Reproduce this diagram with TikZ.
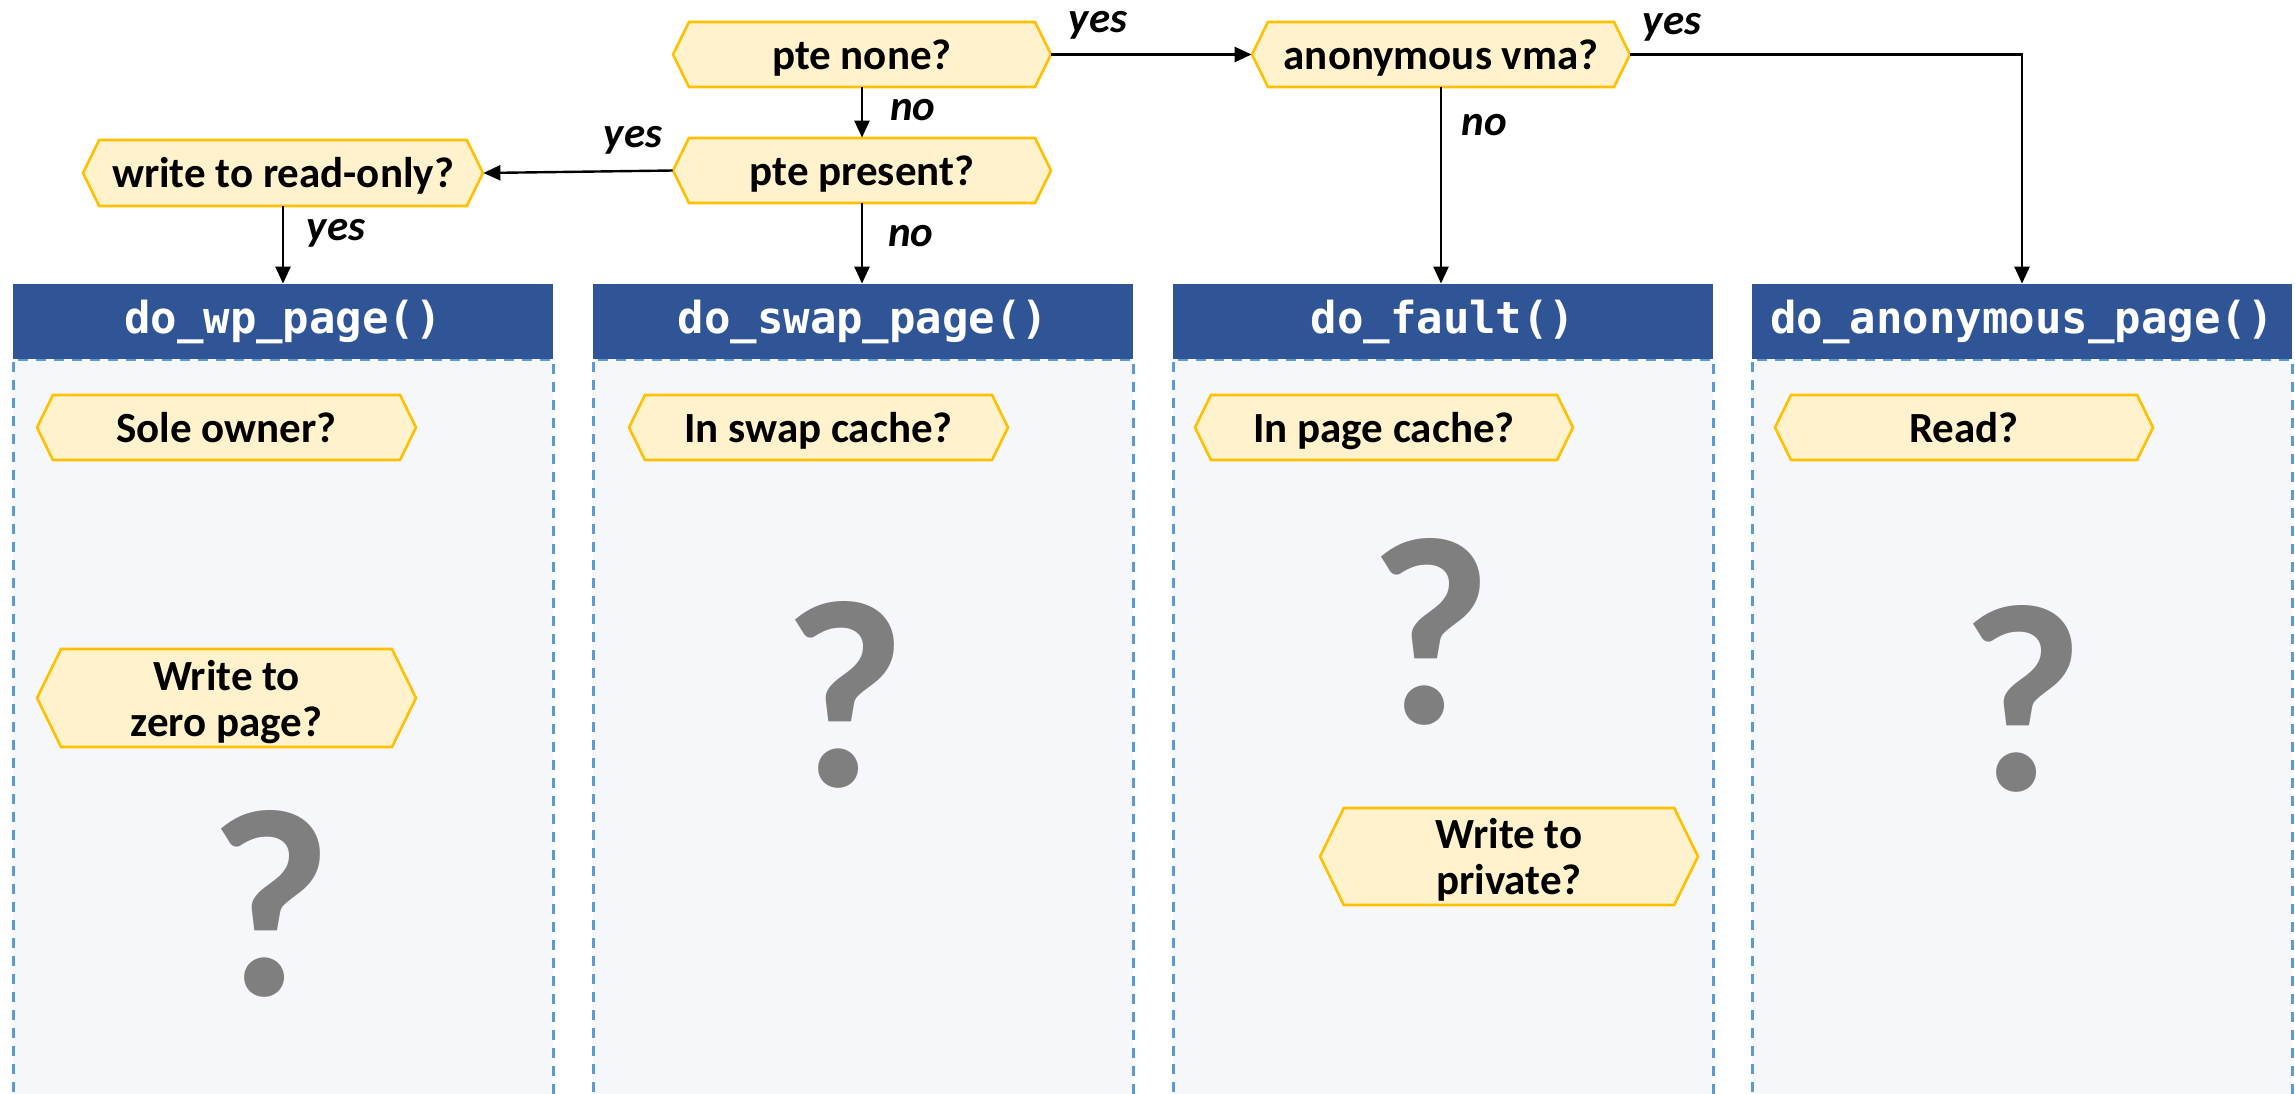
\documentclass[tikz,border=0pt]{standalone}
\usepackage{fontspec}
\setmainfont{Carlito}
\newfontfamily\codefont{DejaVu Sans Mono}
\usetikzlibrary{arrows.meta,calc}

\definecolor{hexfill}{HTML}{FFF2CC}
\definecolor{hexline}{HTML}{FFC000}
\definecolor{hdrblue}{HTML}{2F5597}
\definecolor{panelfill}{HTML}{F5F7FB}
\definecolor{paneldash}{HTML}{5B9BD5}
\definecolor{qgray}{HTML}{7F7F7F}

\tikzset{
  hexshape/.style={fill=hexfill, draw=hexline, line width=1.3pt, line join=miter},
  qtext/.style={rectangle, inner sep=0pt, align=center,
    font=\bfseries\fontsize{21.5pt}{23pt}\selectfont},
  oneline/.style={text height=17.2pt, text depth=2.7pt},
  twoline/.style={yshift=-1.8pt},
  hdr/.style={rectangle, fill=hdrblue, text=white, inner sep=0pt,
    minimum height=37.5pt, minimum width=270pt,
    font=\codefont\bfseries\fontsize{22pt}{26pt}\selectfont},
  paneldashed/.style={draw=paneldash, line width=1.5pt, dash pattern=on 5pt off 4pt},
  conn/.style={draw, line width=1.2pt, -{Triangle[length=8.5pt,width=7.5pt]}},
  lbl/.style={inner sep=0pt, font=\bfseries\itshape\fontsize{21.5pt}{23pt}\selectfont},
  qmark/.style={inner sep=0pt, text=qgray, font=\bfseries\fontsize{134pt}{140pt}\selectfont}
}

% #1 extra options, #2 name, #3 cx, #4 cy, #5 width, #6 height (px), #7 text
\newcommand\hexq[7][]{%
  \pgfmathsetmacro\hexin{0.245*#6}%
  \draw[hexshape] (#3-#5/2,#4) -- (#3-#5/2+\hexin,#4-#6/2) -- (#3+#5/2-\hexin,#4-#6/2)
     -- (#3+#5/2,#4) -- (#3+#5/2-\hexin,#4+#6/2) -- (#3-#5/2+\hexin,#4+#6/2) -- cycle;
  \node[qtext, minimum width=#5*0.5pt, minimum height=#6*0.5pt, #1] (#2) at (#3,#4) {#7};
}

% #1 name, #2 left x, #3 title
\newcommand\fnpanel[3]{%
  \fill[panelfill] (#2,359) rectangle (#2+540,1110);
  \draw[paneldashed] (#2,1110) -- (#2,359) -- (#2+540,359) -- (#2+540,1110);
  \node[hdr] (#1) at (#2+270,321.5) {#3};
}

\begin{document}
\begin{tikzpicture}[x={(0.5pt,0)}, y={(0,-0.5pt)}]
\clip (0,0) rectangle (2295,1093);
\fill[white] (0,0) rectangle (2295,1093);

% panels
\fnpanel{h1}{13}{do\_wp\_page()}
\fnpanel{h2}{593}{do\_swap\_page()}
\fnpanel{h3}{1173}{do\_fault()}
\fnpanel{h4}{1752}{do\_anonymous\_page()}

% top decision hexagons
\hexq[oneline]{pn}{862}{54.5}{378}{65}{pte none?}
\hexq[oneline]{pp}{862}{170.5}{378}{65}{pte present?}
\hexq[oneline]{anon}{1441}{54.5}{378}{65}{anonymous vma?}
\hexq[oneline]{wro}{283}{173}{400}{66}{write to read-only?}

% panel hexagons
\hexq[oneline]{sole}{226.5}{427.5}{379}{65}{Sole owner?}
\hexq[twoline]{zero}{226.5}{698}{379}{98}{Write to\\zero page?}
\hexq[oneline]{swapc}{818.5}{427.5}{379}{65}{In swap cache?}
\hexq[oneline]{pagec}{1384}{427.5}{378}{65}{In page cache?}
\hexq[twoline]{wpriv}{1509}{856.5}{378}{97}{Write to\\private?}
\hexq[oneline]{readq}{1964}{427.5}{378}{65}{Read?}

% question marks
\node[qmark] (q1) at (271,904) {?};
\node[qmark] (q2) at (845,695) {?};
\node[qmark] (q3) at (1431,632) {?};
\node[qmark] (q4) at (2023,699) {?};

% connectors
\draw[conn] (pn.south) -- (pp.north);
\draw[conn] (pn.east) -- (anon.west);
\draw[conn] (pp.west) -- (wro.east);
\draw[conn] (wro.south) -- (wro.south |- h1.north);
\draw[conn] (pp.south) -- (pp.south |- h2.north);
\draw[conn] (anon.south) -- (anon.south |- h3.north);
\draw[conn] (anon.east) -| (h4.north);

% labels
\node[lbl] (l1) at (1098,25) {yes};
\node[lbl] (l2) at (1672,27) {yes};
\node[lbl] (l3) at (913,110) {no};
\node[lbl] (l4) at (633,140) {yes};
\node[lbl] (l5) at (336,233) {yes};
\node[lbl] (l6) at (911,236) {no};
\node[lbl] (l7) at (1484,125) {no};
\end{tikzpicture}
\end{document}
